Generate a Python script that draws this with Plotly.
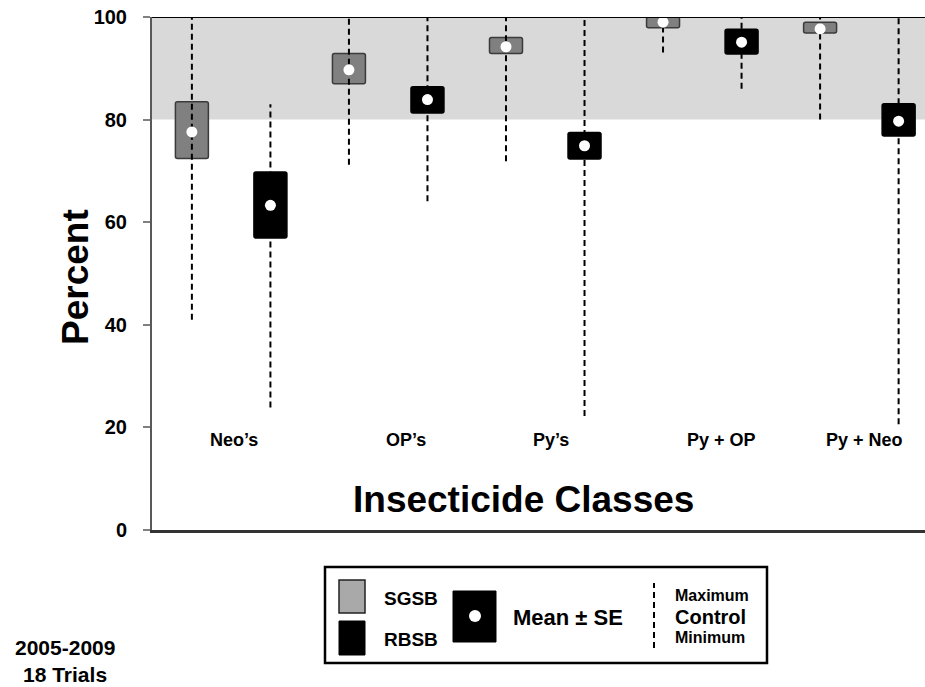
import plotly.graph_objects as go

# Insecticide classes tested
categories = ["Neo’s", "OP’s", "Py’s", "Py + OP", "Py + Neo"]

# Sugarcane borer (SGSB): percent control
sgsb_max = [100, 100, 100, 100, 100]
sgsb_se_hi = [83.5, 92.9, 96.0, 100.0, 99.0]
sgsb_mean = [77.6, 89.7, 94.2, 99.0, 97.7]
sgsb_se_lo = [72.4, 87.0, 92.9, 97.9, 96.9]
sgsb_min = [41.0, 71.2, 71.9, 93.1, 80.0]

# Rice borer (RBSB): percent control
rbsb_max = [83.0, 100, 100, 100, 100]
rbsb_se_hi = [69.8, 86.4, 77.5, 97.6, 83.1]
rbsb_mean = [63.3, 83.9, 74.9, 95.1, 79.7]
rbsb_se_lo = [56.9, 81.3, 72.3, 92.8, 76.8]
rbsb_min = [23.9, 64.1, 22.2, 86.0, 20.6]

y_ticks = [0, 20, 40, 60, 80, 100]

# ---- layout constants ----
W, H = 925, 687
ML, MR, MT, MB = 152, 0, 17, 157
PW, PH = W - ML - MR, H - MT - MB
OFFSET = 0.25
BOX_W = 0.21
label_nudge = [0.016, 0.115, 0.035, 0.125, 0.033]
FONT = "Liberation Sans, Arial, sans-serif"


def px(x):
    return (x - ML) / PW


def py(y):
    return (H - MB - y) / PH


idx = list(range(len(categories)))
fig = go.Figure()


def add_group(xs, mx, hi, mean, lo, mn, fill, edge, name):
    # dashed range line from minimum to maximum
    lx, ly = [], []
    for x, a, b in zip(xs, mn, mx):
        lx += [x, x, None]
        ly += [a, b, None]
    fig.add_trace(go.Scatter(x=lx, y=ly, mode="lines", showlegend=False,
                             line=dict(color="black", width=2, dash="6px,4px"),
                             hoverinfo="skip", cliponaxis=False))
    # mean +/- SE box
    fig.add_trace(go.Bar(x=xs, y=[h - l for h, l in zip(hi, lo)], base=lo,
                         width=BOX_W, name=name, showlegend=False,
                         marker=dict(color=fill, line=dict(color=edge, width=1.5))))
    # mean dot
    fig.add_trace(go.Scatter(x=xs, y=mean, mode="markers", showlegend=False,
                             marker=dict(color="white", size=11, line=dict(width=0)),
                             cliponaxis=False))


add_group([i - OFFSET for i in idx], sgsb_max, sgsb_se_hi, sgsb_mean, sgsb_se_lo,
          sgsb_min, "#808080", "#3a3a3a", "SGSB")
add_group([i + OFFSET for i in idx], rbsb_max, rbsb_se_hi, rbsb_mean, rbsb_se_lo,
          rbsb_min, "#000000", "#000000", "RBSB")

shapes = [
    # 80-100 % band
    dict(type="rect", xref="paper", yref="y", x0=0, x1=1, y0=80, y1=100,
         fillcolor="#d9d9d9", line=dict(width=0), layer="below"),
    # top border
    dict(type="line", xref="paper", yref="y", x0=0, x1=1, y0=100, y1=100,
         line=dict(color="black", width=2)),
    # key frame
    dict(type="rect", xref="paper", yref="paper", x0=px(325), x1=px(767),
         y0=py(663), y1=py(567), line=dict(color="black", width=2.5),
         fillcolor="white"),
    dict(type="rect", xref="paper", yref="paper", x0=px(339), x1=px(365),
         y0=py(613), y1=py(580), fillcolor="#a9a9a9",
         line=dict(color="#222222", width=1.5)),
    dict(type="rect", xref="paper", yref="paper", x0=px(339), x1=px(365),
         y0=py(655), y1=py(621), fillcolor="black", line=dict(color="black", width=1)),
    dict(type="rect", xref="paper", yref="paper", x0=px(453), x1=px(496),
         y0=py(642), y1=py(591), fillcolor="black", line=dict(color="black", width=1)),
    dict(type="circle", xref="paper", yref="paper", x0=px(469), x1=px(481),
         y0=py(622), y1=py(610), fillcolor="white", line=dict(width=0)),
    dict(type="line", xref="paper", yref="paper", x0=px(654), x1=px(654),
         y0=py(648), y1=py(583), line=dict(color="black", width=2, dash="6px,4px")),
]

annotations = []
for i, (c, n) in enumerate(zip(categories, label_nudge)):
    annotations.append(dict(x=i + n, y=17.5, xref="x", yref="y", text=c,
                            showarrow=False, font=dict(size=18, family=FONT,
                                                       color="black", weight="bold")))


def txt(text, x, y, size, xanchor="center", angle=0):
    annotations.append(dict(x=px(x), y=py(y), xref="paper", yref="paper", text=text,
                            showarrow=False, xanchor=xanchor, yanchor="middle",
                            textangle=angle, borderpad=0,
                            font=dict(size=size, family=FONT, color="black",
                                      weight="bold")))


txt("Insecticide Classes", 523, 499, 37)
txt("Percent", 75, 277, 37, angle=-90)
txt("SGSB", 383, 598, 19, xanchor="left")
txt("RBSB", 383, 640, 19, xanchor="left")
txt("Mean ± SE", 512, 617, 22, xanchor="left")
txt("Maximum", 674, 595, 16, xanchor="left")
txt("Control", 674, 617, 20, xanchor="left")
txt("Minimum", 674, 637, 16, xanchor="left")
txt("2005-2009", 65, 648, 21)
txt("18 Trials", 65, 674, 21)

fig.update_layout(
    width=W, height=H,
    margin=dict(l=ML, r=MR, t=MT, b=MB, pad=0),
    paper_bgcolor="white", plot_bgcolor="white",
    barmode="overlay", barcornerradius=2,
    showlegend=False,
    shapes=shapes, annotations=annotations,
    xaxis=dict(range=[-0.504, 4.418], showticklabels=False, ticks="",
               showgrid=False, zeroline=False, showline=True,
               linecolor="#333333", linewidth=2.5, fixedrange=True),
    yaxis=dict(range=[0, 100], tickvals=y_ticks, ticks="outside", ticklen=7,
               tickwidth=1.5, tickcolor="#808080", showgrid=False, zeroline=False,
               showline=True, linecolor="#595959", linewidth=2,
               ticklabelstandoff=12,
               tickfont=dict(size=20, family=FONT, color="black", weight="bold")),
)

fig.write_html("out.html")
